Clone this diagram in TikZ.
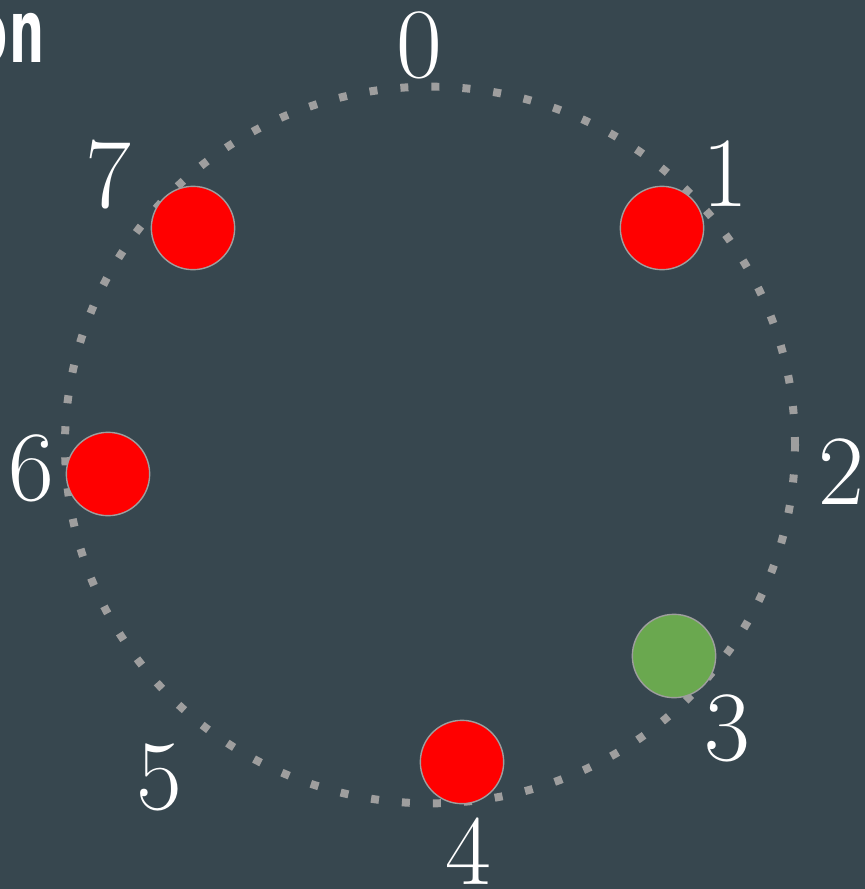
\documentclass[tikz,border=0pt]{standalone}
\usepackage{fontspec}
\newfontfamily\headfont{DejaVu Sans Mono}
\usetikzlibrary{positioning}
\definecolor{slatebg}{RGB}{55,71,79}
\definecolor{ringgray}{RGB}{158,158,158}
\definecolor{slotred}{RGB}{255,0,0}
\definecolor{slotgreen}{RGB}{106,168,79}

\begin{document}
\begin{tikzpicture}[
    x=0.03cm, y=-0.03cm,
    slot/.style={
        circle,
        draw=ringgray,
        line width=1.2pt,
        minimum size=2.5cm,
        inner sep=0pt
    },
    taken/.style={
        slot,
        fill=slotred
    },
    freeslot/.style={
        slot,
        fill=slotgreen
    },
    num/.style={
        font=\fontsize{85}{85}\selectfont,
        text=white,
        inner sep=0pt
    },
    ring/.style={
        draw=ringgray,
        line width=6.8pt,
        dash pattern=on 6.8pt off 19.7pt
    }
]

% Background
\useasboundingbox (0,0) rectangle (865,889);
\fill[slatebg] (0,0) rectangle (865,889);
\clip (0,0) rectangle (865,889);

% Title remainder
\node[font=\headfont\bfseries\fontsize{75}{75}\selectfont, text=white,
    anchor=base east, inner sep=0pt, xscale=0.7] (title) at (46,62) {on};

% Ring
\coordinate (hub) at (430,445);
\draw[ring] (hub) ellipse[x radius=10.95cm, y radius=10.75cm];

% Position labels
\node[num] (p0) at (419,45) {0};
\node[num] (p1) at (725,174) {1};
\node[num] (p2) at (841,472) {2};
\node[num] (p3) at (727,728) {3};
\node[num] (p4) at (468,851) {4};
\node[num] (p5) at (159,777) {5};
\node[num] (p6) at (31,468) {6};
\node[num] (p7) at (108,175) {7};

% Slots
\node[taken] (s7) at (193,228) {};
\node[taken] (s1) at (662,228) {};
\node[taken] (s6) at (108,474) {};
\node[taken] (s4) at (462,762) {};
\node[freeslot] (s3) at (674,656) {};

\end{tikzpicture}
\end{document}
